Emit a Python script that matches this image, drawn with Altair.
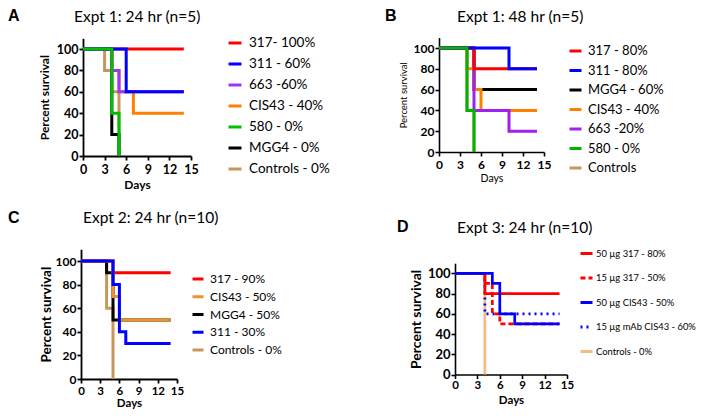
import altair as alt
import pandas as pd

FONT = "Lato"
NARROW = "Lato"
W, H = 692, 401

X_TICKS = [0, 3, 6, 9, 12, 15]
Y_TICKS = [0, 20, 40, 60, 80, 100]

# ---------------- Panel A ----------------
A_TITLE = "Expt 1: 24 hr (n=5)"
A_SERIES = ["317- 100%", "311 - 60%", "663 -60%", "CIS43 - 40%", "580 - 0%", "MGG4 - 0%", "Controls - 0%"]
A_COLORS = ["#FF0000", "#0000FF", "#A035F5", "#FF8000", "#00C000", "#000000", "#C8965A"]
A_DAYS = [[0, 14], [0, 6, 14], [0, 4, 5, 14], [0, 4, 5, 7, 14], [0, 4, 5], [0, 4, 5], [0, 3, 4, 5]]
A_SURV = [[100, 100], [100, 60, 60], [100, 80, 60, 60], [100, 80, 60, 40, 40], [100, 40, 0], [100, 20, 0], [100, 80, 60, 0]]
A_DRAW = ["317- 100%", "CIS43 - 40%", "Controls - 0%", "MGG4 - 0%", "663 -60%", "311 - 60%", "580 - 0%"]

# ---------------- Panel B ----------------
B_TITLE = "Expt 1: 48 hr (n=5)"
B_SERIES = ["317 - 80%", "311 - 80%", "MGG4 - 60%", "CIS43 - 40%", "663 -20%", "580 - 0%", "Controls"]
B_COLORS = ["#FF0000", "#0000FF", "#000000", "#FF8000", "#A020F0", "#00B400", "#C8965A"]
B_DAYS = [[0, 5, 14], [0, 10, 14], [0, 5, 14], [0, 4, 5, 6, 14], [0, 5, 10, 14], [0, 4, 5], [0, 4, 5]]
B_SURV = [[100, 80, 80], [100, 80, 80], [100, 60, 60], [100, 80, 60, 40, 40], [100, 40, 20, 20], [100, 40, 0], [100, 40, 0]]
B_DRAW = ["Controls", "MGG4 - 60%", "CIS43 - 40%", "663 -20%", "317 - 80%", "311 - 80%", "580 - 0%"]

# ---------------- Panel C ----------------
C_TITLE = "Expt 2: 24 hr (n=10)"
C_SERIES = ["317 - 90%", "CIS43 - 50%", "MGG4 - 50%", "311 - 30%", "Controls - 0%"]
C_COLORS = ["#FF0000", "#F0902F", "#000000", "#0000FF", "#C8965A"]
C_DAYS = [[0, 5, 14], [0, 5, 6, 14], [0, 4, 5, 14], [0, 5, 6, 7, 14], [0, 4, 5]]
C_SURV = [[100, 90, 90], [100, 70, 50, 50], [100, 90, 50, 50], [100, 80, 40, 30, 30], [100, 60, 0]]
C_DRAW = ["Controls - 0%", "317 - 90%", "MGG4 - 50%", "CIS43 - 50%", "311 - 30%"]

# ---------------- Panel D ----------------
D_TITLE = "Expt 3: 24 hr (n=10)"
D_SERIES = ["50 µg 317 - 80%", "15 µg 317 - 50%", "50 µg CIS43 - 50%", "15 µg mAb CIS43 - 60%", "Controls  - 0%"]
D_COLORS = ["#FF0000", "#FF0000", "#0000FF", "#0000FF", "#F5BC80"]
D_DASHES = [[1, 0], [5, 3], [1, 0], [2, 4], [1, 0]]
D_DAYS = [[0, 4, 14], [0, 4, 5, 6, 14], [0, 5, 6, 8, 14], [0, 4, 14], [0, 4]]
D_SURV = [[100, 80, 80], [100, 90, 60, 50, 50], [100, 90, 60, 50, 50], [100, 60, 60], [100, 0]]
D_DRAW = ["Controls  - 0%", "15 µg mAb CIS43 - 60%", "15 µg 317 - 50%", "50 µg 317 - 80%", "50 µg CIS43 - 50%"]


def build_df(series, days, surv, draw):
    rows = []
    for name in draw:
        i = series.index(name)
        for d, s in zip(days[i], surv[i]):
            rows.append({"series": name, "day": d, "surv": s})
    return pd.DataFrame(rows)


def x_axis(offset, font, lsize, tsize, tweight, lpad, tpad, dw):
    return alt.Axis(orient="bottom", offset=offset, values=X_TICKS, title="Days", grid=False,
                    labelFont=font, labelFontSize=lsize, labelFontWeight="bold", labelColor="black",
                    labelPadding=lpad, labelFlush=False, labelOverlap=False, labelAngle=0,
                    titleFont=font, titleFontSize=tsize, titleFontWeight=tweight, titleColor="black",
                    titlePadding=tpad, domainColor="black", domainWidth=dw, tickColor="black",
                    tickWidth=dw, tickSize=4)


def y_axis(offset, font, lsize, tsize, tweight, lpad, tpad, dw):
    return alt.Axis(orient="left", offset=offset, values=Y_TICKS, title="Percent survival", grid=False,
                    labelFont=font, labelFontSize=lsize, labelFontWeight="bold", labelColor="black",
                    labelPadding=lpad, labelFlush=False, labelOverlap=False,
                    titleFont=font, titleFontSize=tsize, titleFontWeight=tweight, titleColor="black",
                    titlePadding=tpad, domainColor="black", domainWidth=dw, tickColor="black",
                    tickWidth=dw, tickSize=4)


def legend(x, y, font, size, sym, row_pad, offset):
    return alt.Legend(orient="none", legendX=x, legendY=y, title=None, symbolType="stroke",
                      symbolSize=sym * sym, symbolStrokeWidth=3, labelFont=font, labelFontSize=size,
                      labelColor="black", rowPadding=row_pad, labelOffset=offset, padding=0,
                      labelLimit=400, direction="vertical")


def panel(df, series, colors, xr, yr, xa, ya, leg, sw, dashes=None):
    enc = dict(
        x=alt.X("day:Q", scale=alt.Scale(domain=[0, 15], range=xr, nice=False, zero=False), axis=xa),
        y=alt.Y("surv:Q", scale=alt.Scale(domain=[0, 110], range=yr, nice=False), axis=ya),
        color=alt.Color("series:N", scale=alt.Scale(domain=series, range=colors), legend=leg),
    )
    if dashes is not None:
        enc["strokeDash"] = alt.StrokeDash("series:N", scale=alt.Scale(domain=series, range=dashes), legend=leg)
    return alt.Chart(df).mark_line(interpolate="step-after", strokeWidth=sw).encode(**enc)


pA = panel(build_df(A_SERIES, A_DAYS, A_SURV, A_DRAW), A_SERIES, A_COLORS, [75, 183], [148, 30.3],
           x_axis(148 - H, FONT, 12.5, 12, "bold", 3, 4, 1.8),
           y_axis(-75, FONT, 12.5, 12, "bold", 1, 5, 1.8),
           legend(219, 27, FONT, 13.5, 13, 6, 6), 3)

pB = panel(build_df(B_SERIES, B_DAYS, B_SURV, B_DRAW), B_SERIES, B_COLORS, [431, 536], [144, 29.6],
           x_axis(144 - H, FONT, 12, 10.5, "normal", 3, 3, 1.6),
           y_axis(-431, FONT, 12, 9.5, "normal", 1, 5, 1.6),
           legend(560, 35.5, FONT, 13, 12, 4.5, 5), 3)

pC = panel(build_df(C_SERIES, C_DAYS, C_SURV, C_DRAW), C_SERIES, C_COLORS, [73, 169], [371, 241.2],
           x_axis(371 - H, FONT, 11.5, 11.5, "bold", 2, 1, 1.8),
           y_axis(-73, FONT, 12, 13.5, "bold", 1, 2, 1.8),
           legend(183, 264, FONT, 12, 11, 4.75, 5), 3)

pD = panel(build_df(D_SERIES, D_DAYS, D_SURV, D_DRAW), D_SERIES, D_COLORS, [447, 559], [366.5, 255.2],
           x_axis(366.5 - H, NARROW, 11.5, 11.5, "bold", 1, 3, 1.6),
           y_axis(-447, NARROW, 13, 14, "bold", 1, 4, 1.6),
           legend(571, 238, NARROW, 9.4, 12, 10.5, 2), 2.7, D_DASHES)


def label(text, x, y, size, weight="normal", font=FONT, baseline="middle"):
    return alt.Chart(pd.DataFrame({"t": [text]})).mark_text(
        align="left", baseline=baseline, font=font, fontSize=size, fontWeight=weight, color="black"
    ).encode(x=alt.value(x), y=alt.value(y), text="t:N")


texts = [
    label(A_TITLE, 66, 8.5, 15.5),
    label(B_TITLE, 449, 8.5, 15.5),
    label(C_TITLE, 75, 210, 15.5),
    label(D_TITLE, 449, 220, 15.5),
    label("A", 0, 0, 16, "bold", "Liberation Sans", "top"),
    label("B", 377, 0, 16, "bold", "Liberation Sans", "top"),
    label("C", 0, 210, 16, "bold", "Liberation Sans"),
    label("D", 389, 219, 16, "bold", "Liberation Sans"),
]

chart = alt.layer(pA, pB, pC, pD, *texts).resolve_scale(
    x="independent", y="independent", color="independent", strokeDash="independent"
).resolve_axis(x="independent", y="independent").resolve_legend(
    color="independent", strokeDash="independent"
).properties(
    width=W, height=H, padding=0, autosize=alt.AutoSizeParams(type="none")
).configure_view(strokeWidth=0)

chart.save("out.html", embed_options={"renderer": "svg", "actions": False})
